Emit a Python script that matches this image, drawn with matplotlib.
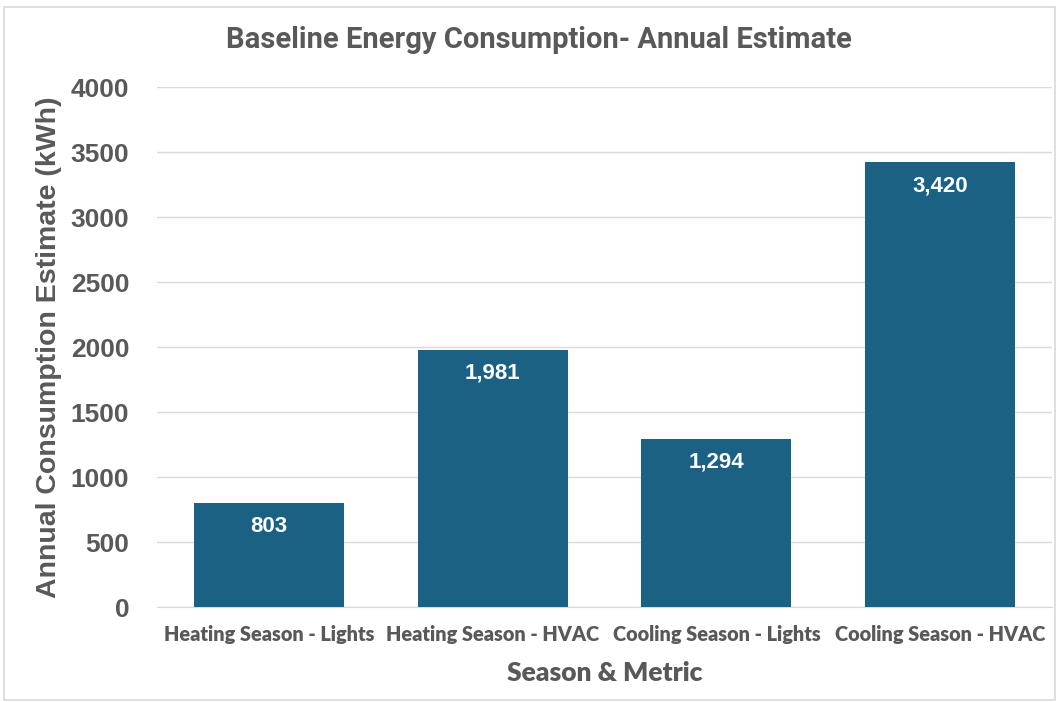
import matplotlib
matplotlib.use("Agg")
import matplotlib.pyplot as plt
from matplotlib.patches import Rectangle
from matplotlib import font_manager

categories = ["Heating Season - Lights", "Heating Season - HVAC",
              "Cooling Season - Lights", "Cooling Season - HVAC"]
consumption = [803, 1981, 1294, 3420]
yticks = [0, 500, 1000, 1500, 2000, 2500, 3000, 3500, 4000]

BAR = "#1a6184"
TEXT = "#595959"
GRID = "#d9d9d9"

names = {f.name for f in font_manager.fontManager.ttflist}
narrow = "Liberation Sans Narrow" if "Liberation Sans Narrow" in names else "Roboto"

fig = plt.figure(figsize=(10.56, 7.02), dpi=100)
ax = fig.add_axes([0.1487, 0.1353, 0.8475, 0.7407])

x = list(range(len(categories)))
bars = ax.bar(x, consumption, width=0.67, color=BAR, zorder=3)

for b, v in zip(bars, consumption):
    ax.annotate(f"{v:,}", (b.get_x() + b.get_width() / 2, v),
                xytext=(0, -17), textcoords="offset points",
                ha="center", va="center", color="white", fontsize=16,
                fontweight="bold", family="Liberation Sans", zorder=4)

ax.set_xlim(-0.5, 3.5)
ax.set_ylim(0, 4000)
ax.set_yticks(yticks)
ax.set_yticklabels([str(t) for t in yticks], family="Liberation Sans",
                   fontweight="bold", fontsize=19, color=TEXT)
ax.set_xticks(x)
ax.set_xticklabels(categories, family="Lato", fontweight="heavy",
                   fontsize=14.3, color=TEXT)
ax.tick_params(axis="both", length=0)
ax.tick_params(axis="y", pad=20)
ax.tick_params(axis="x", pad=13)

ax.grid(axis="y", color=GRID, linewidth=1, zorder=0)
for s in ["top", "right", "left"]:
    ax.spines[s].set_visible(False)
ax.spines["bottom"].set_color(GRID)

ax.set_ylabel("Annual Consumption Estimate (kWh)", family="Liberation Sans",
              fontweight="bold", fontsize=20.5, color=TEXT, labelpad=6)
ax.set_xlabel("Season & Metric", family="Lato", fontweight="heavy",
              fontsize=19, color=TEXT, labelpad=12)

fig.text(0.51, 0.943, "Baseline Energy Consumption- Annual Estimate",
         ha="center", va="center", family=narrow, fontweight="bold",
         fontsize=21, color=TEXT)

fig.patches.append(Rectangle((0.004, 0.003), 0.995, 0.987,
                             transform=fig.transFigure, fill=False,
                             edgecolor=GRID, linewidth=1.2))

fig.savefig("out.png", dpi=100)
